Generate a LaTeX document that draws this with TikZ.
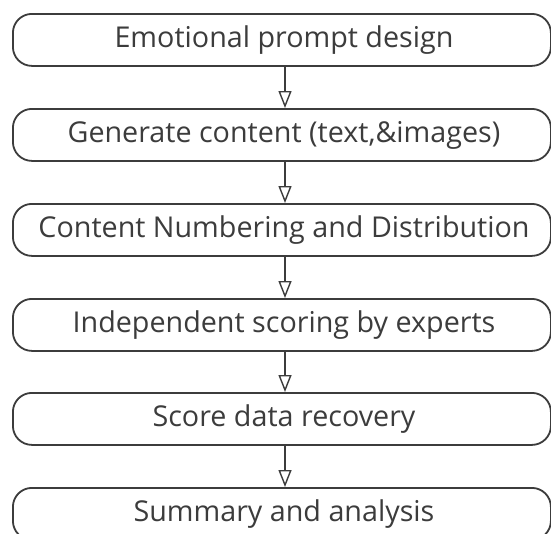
\documentclass[tikz,border=0pt]{standalone}
\usepackage{fontspec}
\setmainfont{Open Sans}
\usetikzlibrary{arrows.meta}
\definecolor{ink}{HTML}{3C3C3C}
\tikzset{
  stepbox/.style={draw=ink, line width=1.8pt, rounded corners=19pt, minimum width=538pt, minimum height=52pt, inner sep=0pt, anchor=north west},
  lbl/.style={text=ink, font=\fontsize{28.7}{32}\selectfont, anchor=center},
  flow/.style={draw=ink, line width=1.4pt, -{Triangle[open, length=17pt, width=13pt, line width=1.4pt]}}
}
\begin{document}
\begin{tikzpicture}[x=1pt,y=1pt]
\useasboundingbox (0,0) rectangle (551,-533);
\clip (0,0) rectangle (551,-533);
\fill[white] (0,0) rectangle (551,-533);
\foreach \n/\t/\y in {b1/Emotional prompt design/13, b2/{Generate content (text,\&images)}/108, b3/Content Numbering and Distribution/203, b4/Independent scoring by experts/298, b5/Score data recovery/392, b6/Summary and analysis/487}{
  \node[stepbox] (\n) at (12,-\y) {};
  \node[lbl] (\n t) at (284,-\y-27) {\t};
}
\foreach \a/\b in {b1/b2, b2/b3, b3/b4, b4/b5, b5/b6}{
  \coordinate (\a s) at (\a.south -| 285,0);
  \coordinate (\b n) at (\b.north -| 285,0);
  \draw[flow] (\a s) -- (\b n);
}
\end{tikzpicture}
\end{document}
